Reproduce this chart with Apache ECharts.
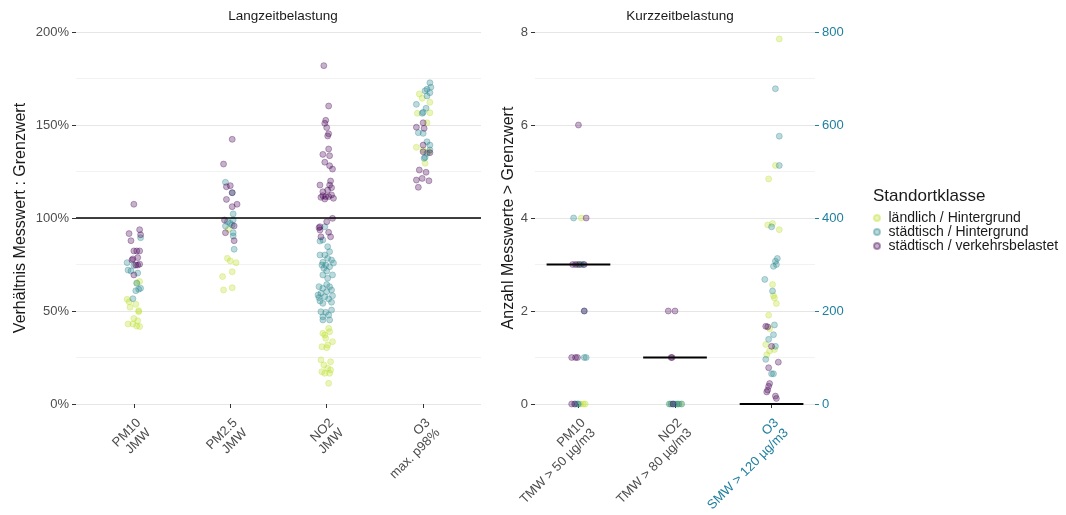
<!DOCTYPE html>
<html>
<head>
<meta charset="utf-8">
<script src="https://cdn.jsdelivr.net/npm/echarts@6/dist/echarts.min.js"></script>
<style>
  html, body { margin: 0; padding: 0; background: #fff; }
  #chart-container { width: 1066px; height: 515px; }
</style>
</head>
<body>
<div id="chart-container"></div>
<script>
// categories
var langCats = ["PM10\nJMW", "PM2.5\nJMW", "NO2\nJMW", "O3\nmax. p98%"];
var kurzCats = ["PM10\nTMW > 50 µg/m3", "NO2\nTMW > 80 µg/m3", "O3\nSMW > 120 µg/m3"];
var klassen = ["ländlich / Hintergrund", "städtisch / Hintergrund", "städtisch / verkehrsbelastet"];
var farben = ["187,223,39", "37,133,142", "68,1,84"];
var kurzMedian = [3, 1, 0];

// [category, jitter, value]  - Langzeitbelastung (% of limit)
var langLaendlich = [
  [1,0.06,65.8],[1,0.03,65.2],[1,-0.07,56.3],[1,-0.05,55],[1,-0.04,52],[1,0.02,53.6],[1,0.05,50.2],
  [1,0.05,49.6],[1,0,46],[1,0.04,44.8],[1,-0.06,43],[1,-0.01,43],[1,0.06,41.6],[1,0.03,41.9],
  [2,-0.02,93.9],[2,-0.03,78.3],[2,0,76.9],[2,0.06,76],[2,0.02,71.1],[2,-0.08,68.5],[2,-0.07,61.3],[2,0.02,62.5],
  [3,0.02,40.7],[3,-0.04,38],[3,0.03,38.9],[3,-0.02,37.1],[3,-0.01,35.3],[3,0.06,33.5],[3,-0.05,30.8],
  [3,0,30.3],[3,0.01,31.7],[3,-0.06,23.7],[3,0.04,22.7],[3,-0.03,21],[3,0.01,19.2],[3,-0.05,17.4],
  [3,0.03,16.5],[3,-0.02,16.5],[3,0.04,18.3],[3,0.02,11.1],
  [4,-0.04,166.7],[4,-0.01,164.4],[4,0.07,162.2],[4,-0.06,156.3],[4,0.07,156.6],[4,0.04,151.2],
  [4,-0.07,138],[4,0,136.6],[4,0.06,135.6],[4,0.02,129.4]
];
var langStadtHg = [
  [1,0.07,89.4],[1,-0.07,76],[1,-0.06,72],[1,-0.03,71.5],[1,0.04,70.4],[1,0.07,62.2],[1,0.02,60.9],
  [1,0.05,61.7],[1,0.03,64.9],[1,-0.01,56.6],[1,0,74.5],
  [2,-0.05,119.2],[2,0.02,113.6],[2,0.03,102.2],[2,-0.03,98],[2,0,97.1],[2,0.03,98.9],[2,0.02,96.2],
  [2,-0.05,95.7],[2,0.03,90.3],[2,0.03,92.1],[2,0.04,83.2],
  [3,-0.02,95.3],[3,-0.07,87.6],[3,-0.04,88.2],[3,0.01,84.6],[3,0.03,81.9],[3,-0.02,80.1],[3,-0.07,80.1],
  [3,0.01,78.3],[3,0.05,77.4],[3,-0.04,76.2],[3,-0.01,74.7],[3,0.03,73.8],[3,-0.03,73],[3,0,71.5],
  [3,0.06,69.4],[3,-0.04,69.4],[3,0.01,67.6],[3,-0.08,63.1],[3,-0.04,62.2],[3,0.03,63.1],[3,0.05,61.3],
  [3,-0.06,59.5],[3,0,60.4],[3,0.06,58.2],[3,-0.08,57.2],[3,-0.02,57.7],[3,0.02,56.5],[3,-0.04,54.1],
  [3,0.05,54.7],[3,-0.07,55.4],[3,-0.06,49.6],[3,-0.01,49.3],[3,0.05,50.5],[3,0.02,47.8],[3,-0.04,46.9],
  [3,-0.04,45.2],[3,0.03,45.2],[3,0,64.2],[3,-0.09,58.6],[3,0.07,75.8],[3,-0.05,74.7],
  [4,0.07,172.7],[4,0.04,169.2],[4,0.02,168.4],[4,0.07,167.4],[4,0.04,165.6],[4,0.08,170.3],
  [4,-0.07,161.1],[4,-0.01,156.3],[4,0.03,159],[4,0,156.8],[4,-0.05,145.9],[4,0,145.5],
  [4,0.04,141],[4,0.07,139.2],[4,0.07,136.6],[4,0.04,134.8],[4,0.02,132.6],[4,0.01,132.1]
];
var langStadtVk = [
  [1,0,107.4],[1,-0.05,91.6],[1,0.06,93.7],[1,0.07,91],[1,-0.03,87.8],[1,0,82.3],[1,0.06,82.3],
  [1,0.03,82.3],[1,-0.02,77.4],[1,0.04,78.7],[1,0.04,74.7],[1,0.06,75.2],[1,0.02,74.7],[1,0,69.4],[1,-0.01,78],
  [2,0.02,142.3],[2,-0.07,129],[2,-0.04,116.8],[2,0,117.4],[2,0.02,113.6],[2,-0.04,110],[2,0.07,107.4],
  [2,0.02,106.1],[2,-0.06,98.9],[2,0.04,95.7],[2,-0.05,92.1],[2,0.04,87.8],
  [3,-0.03,181.9],[3,0.02,160.2],[3,-0.01,152.5],[3,-0.02,150.9],[3,0,148.6],[3,0.02,145.3],[3,0.01,144.1],
  [3,0.02,137.1],[3,-0.04,134.2],[3,0.03,133.5],[3,-0.02,130],[3,0.03,128.1],[3,0.06,126.3],[3,0.04,119.9],
  [3,0.03,117.7],[3,-0.07,117.7],[3,0.05,116.3],[3,-0.04,114.1],[3,0.05,112.4],[3,-0.01,111.5],
  [3,0.02,111.5],[3,-0.02,110.2],[3,0.07,110.6],[3,-0.06,111.1],[3,0.01,115],[3,-0.04,112],
  [3,0.06,99.8],[3,0,98],[3,-0.07,95.3],[3,-0.08,94.8],[3,-0.07,93.5],[3,0.02,92.3],[3,0.04,89.9],[3,-0.06,89.9],
  [4,0,151.2],[4,-0.07,148.8],[4,0.01,148.2],[4,0,139.2],[4,0,135.6],[4,0.07,135.1],[4,-0.04,125.8],
  [4,0.03,124.6],[4,-0.07,120.4],[4,-0.01,121.3],[4,0.06,120],[4,-0.05,116.5]
];

// [category, jitter, value]  - Kurzzeitbelastung (count of exceedances)
var kurzLaendlich = [
  [1,0.03,4],[1,0,3],[1,0.05,0],[1,0.07,0],[1,0.02,0],
  [2,0.03,0],[2,0.06,0],[2,-0.05,0],
  [3,0.08,7.85],[3,0.04,5.13],[3,-0.03,4.84],[3,-0.04,3.85],[3,0.01,3.88],[3,0.08,3.75],[3,0.01,2.57],
  [3,0.02,2.33],[3,0.03,2.28],[3,0.05,2.16],[3,-0.03,1.91],[3,-0.02,1.62],[3,-0.06,1.28],[3,0.03,1.17],
  [3,-0.02,1.14],[3,-0.05,1.06]
];
var kurzStadtHg = [
  [1,-0.05,4],[1,-0.01,3],[1,0.03,3],[1,0.05,3],[1,0.06,2],[1,0.06,1],[1,0.08,1],[1,-0.03,0],[1,0,0],[1,-0.01,0],
  [2,-0.06,0],[2,-0.04,0],[2,-0.02,0],[2,0,0],[2,0.02,0],[2,0.04,0],[2,0.07,0],
  [3,0.04,6.78],[3,0.08,5.76],[3,0.08,5.13],[3,0,3.81],[3,0.06,3.13],[3,0.04,3.07],[3,0.05,3.0],
  [3,0.02,2.96],[3,-0.07,2.68],[3,0.01,2.43],[3,0.03,1.7],[3,0.02,1.49],[3,-0.03,1.39],[3,0.04,1.24],
  [3,-0.06,0.96],[3,0,0.65],[3,0.02,0.65]
];
var kurzStadtVk = [
  [1,0.08,4],[1,0,6],[1,-0.06,3],[1,-0.03,3],[1,0.01,3],[1,0.06,3],[1,0.06,2],[1,-0.07,1],[1,-0.03,1],
  [1,-0.01,1],[1,-0.07,0],[1,-0.04,0],
  [2,-0.07,2],[2,0,2],[2,-0.04,1],[2,-0.03,1],[2,-0.02,0],
  [3,-0.06,1.67],[3,-0.04,1.66],[3,0,1.24],[3,0.07,0.9],[3,-0.03,0.78],[3,-0.02,0.44],[3,-0.03,0.38],
  [3,-0.04,0.3],[3,-0.05,0.26],[3,0.04,0.17],[3,0.05,0.12]
];

var font = "Liberation Sans, Arial, sans-serif";
var grau = "#4d4d4d";
var blau = "#1f7f9f";

function punkte(arr) {
  return arr.map(function (d) { return [d[0] + d[1], d[2]]; });
}

function streu(name, idx, arr, axis) {
  return {
    name: name,
    type: "scatter",
    xAxisIndex: axis,
    yAxisIndex: axis,
    symbol: "circle",
    symbolSize: 6,
    itemStyle: {
      color: "rgba(" + farben[idx] + ",0.38)",
      borderColor: "rgba(" + farben[idx] + ",0.5)",
      borderWidth: 0.8
    },
    data: punkte(arr)
  };
}

var dom = document.getElementById("chart-container");
var myChart = echarts.init(dom, null, { renderer: "canvas" });

var series = [
  streu(klassen[0], 0, langLaendlich, 0),
  streu(klassen[1], 1, langStadtHg, 0),
  streu(klassen[2], 2, langStadtVk, 0),
  streu(klassen[0], 0, kurzLaendlich, 1),
  streu(klassen[1], 1, kurzStadtHg, 1),
  streu(klassen[2], 2, kurzStadtVk, 1)
];
// 100% reference line
series[0].markLine = {
  silent: true,
  symbol: "none",
  label: { show: false },
  lineStyle: { color: "#000", width: 1.6, type: "solid" },
  data: [{ yAxis: 100 }]
};
// median segments
kurzMedian.forEach(function (m, i) {
  series.push({
    type: "line",
    xAxisIndex: 1,
    yAxisIndex: 1,
    symbol: "none",
    silent: true,
    lineStyle: { color: "#000", width: 2 },
    data: [[i + 1 - 0.33, m], [i + 1 + 0.33, m]],
    z: 5
  });
});

function xAchse(idx, min, max, cats) {
  var vals = cats.map(function (c, i) { return i + 1; });
  return {
    type: "value",
    gridIndex: idx,
    min: min,
    max: max,
    axisLine: { show: false },
    splitLine: { show: false },
    axisTick: { show: true, customValues: vals, length: 4, lineStyle: { color: "#333" } },
    axisLabel: {
      customValues: vals,
      rotate: 45,
      margin: 12,
      align: "right",
      verticalAlign: "top",
      fontFamily: font,
      fontSize: 13,
      color: grau,
      lineHeight: 14,
      formatter: function (v) {
        var t = cats[Math.round(v) - 1] || "";
        if (idx === 1 && Math.round(v) === 3) {
          return t.split("\n").map(function (s) { return "{b|" + s + "}"; }).join("\n");
        }
        return t;
      },
      rich: { b: { color: blau, fontFamily: font, fontSize: 13, lineHeight: 14 } }
    }
  };
}

function yAchse(idx, max, interval, name, gap, fmt) {
  return {
    type: "value",
    gridIndex: idx,
    min: 0,
    max: max,
    interval: interval,
    name: name,
    nameLocation: "middle",
    nameGap: gap,
    nameTextStyle: { fontFamily: font, fontSize: 16, color: "#1a1a1a" },
    axisLine: { show: false },
    axisTick: { show: true, length: 4, lineStyle: { color: "#333" } },
    axisLabel: { fontFamily: font, fontSize: 13, color: grau, margin: 7, formatter: fmt },
    splitLine: { show: true, lineStyle: { color: "#e6e6e6", width: 1 } },
    minorTick: { show: false, splitNumber: 2 },
    minorSplitLine: { show: true, lineStyle: { color: "#f2f2f2", width: 1 } }
  };
}

var option = {
  animation: false,
  backgroundColor: "#fff",
  textStyle: { fontFamily: font },
  title: [
    { text: "Langzeitbelastung", left: 278, top: 4, textAlign: "center",
      textStyle: { fontFamily: font, fontSize: 13.5, fontWeight: "normal", color: "#1a1a1a" } },
    { text: "Kurzzeitbelastung", left: 675, top: 4, textAlign: "center",
      textStyle: { fontFamily: font, fontSize: 13.5, fontWeight: "normal", color: "#1a1a1a" } },
    { text: "Standortklasse", left: 868, top: 183,
      textStyle: { fontFamily: font, fontSize: 17, fontWeight: "normal", color: "#1a1a1a" } }
  ],
  legend: {
    data: klassen,
    orient: "vertical",
    left: 868,
    top: 206,
    itemWidth: 13,
    itemHeight: 6,
    itemGap: 0,
    icon: "circle",
    textStyle: { fontFamily: font, fontSize: 14, color: "#1a1a1a", lineHeight: 12 }
  },
  grid: [
    { left: 76, right: 585, top: 32, bottom: 111 },
    { left: 535, right: 251, top: 32, bottom: 111 }
  ],
  xAxis: [
    xAchse(0, 0.4, 4.6, langCats),
    xAchse(1, 0.55, 3.45, kurzCats)
  ],
  yAxis: [
    yAchse(0, 200, 50, "Verhältnis Messwert : Grenzwert", 47, "{value}%"),
    yAchse(1, 8, 2, "Anzahl Messwerte > Grenzwert", 18, "{value}"),
    {
      type: "value",
      gridIndex: 1,
      position: "right",
      min: 0,
      max: 800,
      interval: 200,
      axisLine: { show: false },
      splitLine: { show: false },
      axisTick: { show: true, length: 4, lineStyle: { color: blau } },
      axisLabel: { fontFamily: font, fontSize: 13, color: blau, margin: 7 }
    }
  ],
  series: series
};

myChart.setOption(option);
window.addEventListener("resize", myChart.resize);
</script>
</body>
</html>
